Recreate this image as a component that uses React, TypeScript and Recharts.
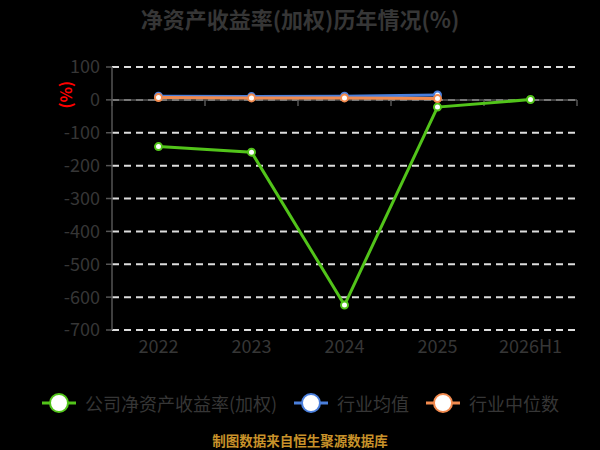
import React from "react";
import { LineChart, Line, XAxis, YAxis, CartesianGrid, ReferenceLine } from "recharts";

const categories = ["2022", "2023", "2024", "2025", "2026H1"];
const companyRoe = [-142, -159, -624, -22, 1];
const industryAvg = [11, 10, 11, 15, null];
const industryMedian = [7, 6, 6, 4, null];
const yTicks = [100, 0, -100, -200, -300, -400, -500, -600, -700];

const seriesDefs = [
  { key: "company", name: "公司净资产收益率(加权)", color: "#52c41a" },
  { key: "avg", name: "行业均值", color: "#4a7fdc" },
  { key: "median", name: "行业中位数", color: "#f28a4e" },
];

const data = categories.map((c, i) => ({
  cat: c,
  company: companyRoe[i],
  avg: industryAvg[i],
  median: industryMedian[i],
}));

const FONT = '"Noto Sans CJK SC", "Noto Sans", sans-serif';

const ZeroLine = (props: any) => {
  const { x1, y1, x2 } = props;
  const n = categories.length;
  const step = (x2 - x1) / n;
  const ticks = [];
  for (let i = 0; i <= n; i++) {
    const x = x1 + i * step;
    ticks.push(<line key={i} x1={x} y1={y1} x2={x} y2={y1 + 6} stroke="#555" strokeWidth={1.5} />);
  }
  return (
    <g>
      <line x1={x1} y1={y1} x2={x2} y2={y1} stroke="#555" strokeWidth={1.5} />
      {ticks}
    </g>
  );
};

const LegendIcon = ({ color }: { color: string }) => (
  <svg width={36} height={22} style={{ display: "block" }}>
    <line x1={1} y1={11} x2={35} y2={11} stroke={color} strokeWidth={3} />
    <circle cx={18} cy={11} r={9} fill="#fff" stroke={color} strokeWidth={2} />
  </svg>
);

export default function App() {
  return (
    <div style={{ position: "absolute", left: 0, top: 0, width: 600, height: 450, background: "#000", fontFamily: FONT }}>
      <div style={{ position: "absolute", left: 0, top: 3, width: 600, textAlign: "center", fontSize: 22, fontWeight: "bold", color: "#363636", lineHeight: "30px" }}>
        净资产收益率(加权)历年情况(%)
      </div>
      <LineChart width={600} height={450} data={data} margin={{ top: 67, right: 23, bottom: 90, left: 52 }}>
        <CartesianGrid vertical={false} stroke="#dddddd" strokeWidth={2} strokeDasharray="7 5" />
        <XAxis
          dataKey="cat"
          scale="band"
          axisLine={false}
          tickLine={false}
          height={30}
          tickMargin={4}
          tick={{ fill: "#363636", fontSize: 18, fontFamily: FONT }}
        />
        <YAxis
          domain={[-700, 100]}
          ticks={yTicks}
          width={60}
          interval={0}
          axisLine={{ stroke: "#555", strokeWidth: 1.5 }}
          tickLine={{ stroke: "#555", strokeWidth: 1.5 }}
          tickSize={6}
          tickMargin={6}
          tick={{ fill: "#363636", fontSize: 18, fontFamily: FONT }}
          label={{ value: "(%)", angle: -90, position: "insideLeft", offset: 14, dy: -90, fill: "#ff0000", fontSize: 16, fontWeight: "bold", fontFamily: FONT }}
        />
        <ReferenceLine y={0} shape={ZeroLine} />
        <Line dataKey="company" name={seriesDefs[0].name} stroke={seriesDefs[0].color} strokeWidth={3} dot={{ r: 3.5, fill: "#fff", stroke: seriesDefs[0].color, strokeWidth: 2 }} isAnimationActive={false} />
        <Line dataKey="avg" name={seriesDefs[1].name} stroke={seriesDefs[1].color} strokeWidth={3} dot={{ r: 3.5, fill: "#fff", stroke: seriesDefs[1].color, strokeWidth: 2 }} isAnimationActive={false} />
        <Line dataKey="median" name={seriesDefs[2].name} stroke={seriesDefs[2].color} strokeWidth={3} dot={{ r: 3.5, fill: "#fff", stroke: seriesDefs[2].color, strokeWidth: 2 }} isAnimationActive={false} />
      </LineChart>
      <div style={{ position: "absolute", left: 0, top: 390, width: 600, display: "flex", justifyContent: "center", alignItems: "center" }}>
        {seriesDefs.map((s, i) => (
          <div key={s.key} style={{ display: "flex", alignItems: "center", marginLeft: i === 0 ? 0 : 16 }}>
            <LegendIcon color={s.color} />
            <span style={{ marginLeft: 8, fontSize: 18, color: "#363636", lineHeight: "26px" }}>{s.name}</span>
          </div>
        ))}
      </div>
      <div style={{ position: "absolute", left: 0, top: 431, width: 600, textAlign: "center", fontSize: 13.5, fontWeight: "bold", color: "#c8922a", lineHeight: "18px" }}>
        制图数据来自恒生聚源数据库
      </div>
    </div>
  );
}
